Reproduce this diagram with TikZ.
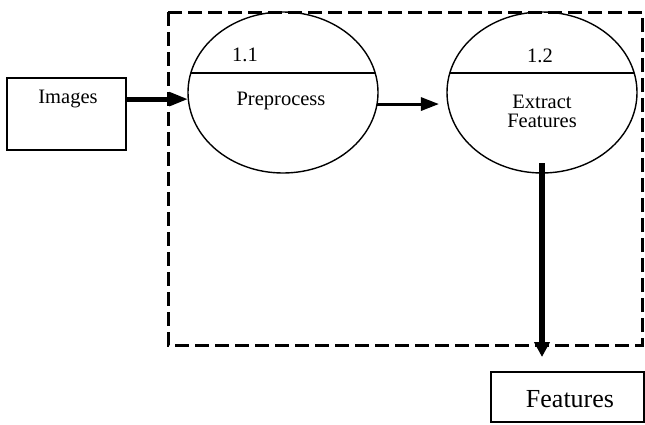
\documentclass[tikz,border=0pt]{standalone}
\usepackage{fontspec}
\setmainfont{Liberation Serif}
\usetikzlibrary{shapes.geometric,arrows.meta,calc}

\begin{document}
\begin{tikzpicture}[x=1pt,y=-1pt,
  txt/.style={inner sep=0pt,anchor=base,font=\fontsize{20.5}{20}\selectfont},
  bigtxt/.style={inner sep=0pt,anchor=base,font=\fontsize{26}{28}\selectfont},
  procbubble/.style={draw,ellipse,line width=1.4pt,minimum width=190pt,minimum height=161pt,inner sep=0pt,outer sep=0pt},
  entity/.style={draw,rectangle,line width=1.4pt,inner sep=0pt,outer sep=0pt},
  dashbox/.style={line width=3pt,dash pattern=on 14pt off 6pt},
  flowthick/.style={line width=5pt,-{Triangle[length=19pt,width=13pt]}},
  flowthin/.style={line width=3pt,-{Triangle[length=18pt,width=13pt]}},
  flowdown/.style={line width=5.5pt,-{Triangle[length=15pt,width=15pt]}}]
\useasboundingbox (0,0) rectangle (645,424);

% system boundary
\draw[dashbox] (168,12) rectangle (642,345);

% external entities
\node[entity,minimum width=119pt,minimum height=72pt] (img) at (66.5,114) {};
\node[txt] (imgt) at (68,103) {Images};
\node[entity,minimum width=153pt,minimum height=50pt] (feat) at (567.5,397) {};
\node[bigtxt] (featt) at (570,407) {Features};

% processes
\node[procbubble] (p1) at (283,92.5) {};
\node[procbubble] (p2) at (542,92.5) {};
\draw[line width=1.4pt] ($(p1.center)+(-92,-19.5)$) -- ($(p1.center)+(92,-19.5)$);
\draw[line width=1.4pt] ($(p2.center)+(-92,-19.5)$) -- ($(p2.center)+(92,-19.5)$);
\node[txt] (n1) at (245,61) {1.1};
\node[txt] (l1) at (281,105) {Preprocess};
\node[txt] (n2) at (540,62) {1.2};
\node[txt] (l2a) at (542,108) {Extract};
\node[txt] (l2b) at (542,127) {Features};

% data flows
\draw[flowthick] (img.east |- p1.184) -- (p1.184);
\draw[flowthin,shorten >=9pt] (p1.-7) -- (p2.187);
\draw[flowdown,shorten >=15pt] ([yshift=10pt]p2.south) -- (p2.south |- feat.north);
\end{tikzpicture}
\end{document}
